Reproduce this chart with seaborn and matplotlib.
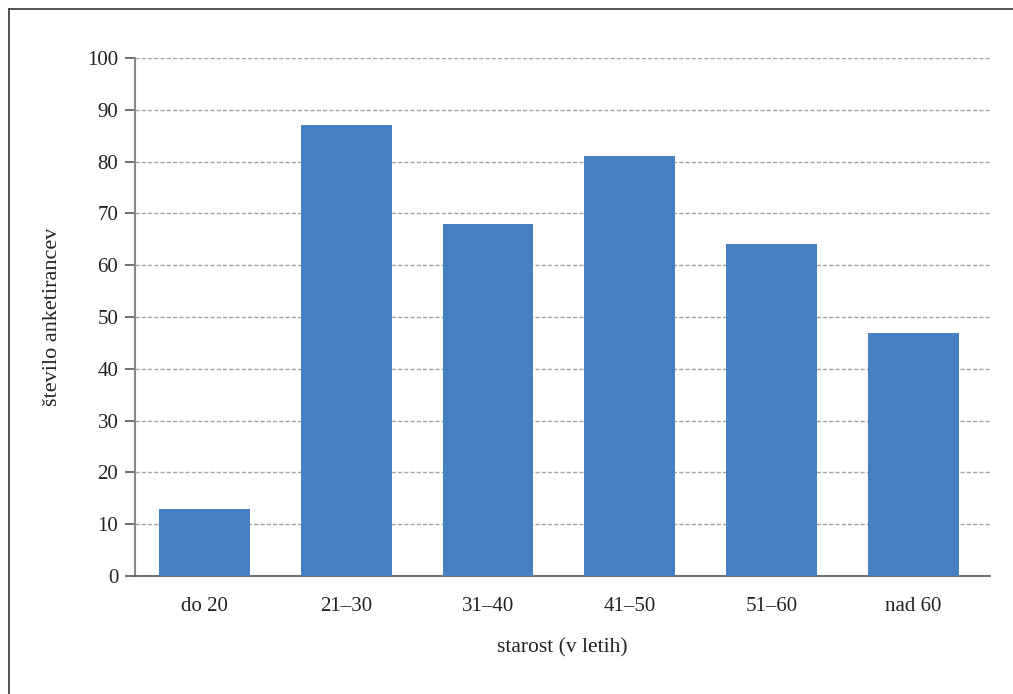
import matplotlib
matplotlib.use("Agg")
import matplotlib.pyplot as plt
from matplotlib.lines import Line2D
import seaborn as sns
import pandas as pd

# Respondents by age group
categories = ["do 20", "21–30", "31–40", "41–50", "51–60", "nad 60"]
counts = [13, 87, 68, 81, 64, 47]
y_ticks = [0, 10, 20, 30, 40, 50, 60, 70, 80, 90, 100]

df = pd.DataFrame({"starost": categories, "stevilo": counts})

sns.set_theme(style="white")
plt.rcParams["font.family"] = ["Liberation Serif", "DejaVu Serif"]

fig = plt.figure(figsize=(10.13, 6.94), dpi=100)
ax = fig.add_axes([0.1333, 0.170, 0.8440, 0.7464])

sns.barplot(data=df, x="starost", y="stevilo", color="#4680C2",
            width=0.64, saturation=1, linewidth=0, ax=ax, zorder=3)

ax.set_ylim(0, 100)
ax.set_yticks(y_ticks)
ax.set_xlim(-0.49, len(categories) - 0.46)
ax.yaxis.grid(True, linestyle=(0, (3, 1.5)), color="#a3a3a3", linewidth=1.0, zorder=0)
ax.xaxis.grid(False)

for side in ("top", "right"):
    ax.spines[side].set_visible(False)
ax.spines["left"].set_color("#888888")
ax.spines["left"].set_linewidth(1.5)
ax.spines["bottom"].set_color("#555555")
ax.spines["bottom"].set_linewidth(1.2)

ax.tick_params(axis="y", which="major", left=True, length=7, width=1.2,
               color="#555555", labelsize=15, labelcolor="#222222", pad=5)
ax.tick_params(axis="x", bottom=False, labelsize=15, labelcolor="#222222", pad=9)

ax.set_xlabel("starost (v letih)", fontsize=15.5, color="#222222", labelpad=16)
ax.set_ylabel("število anketirancev", fontsize=16, color="#222222", labelpad=18)

# Frame lines along the top and left of the figure
fig.add_artist(Line2D([8.5 / 1013, 8.5 / 1013], [0, 1 - 8.5 / 694],
                      transform=fig.transFigure, color="#444444", linewidth=1.3))
fig.add_artist(Line2D([8.5 / 1013, 1], [1 - 8.5 / 694, 1 - 8.5 / 694],
                      transform=fig.transFigure, color="#444444", linewidth=1.3))

fig.savefig("out.png", dpi=100)
